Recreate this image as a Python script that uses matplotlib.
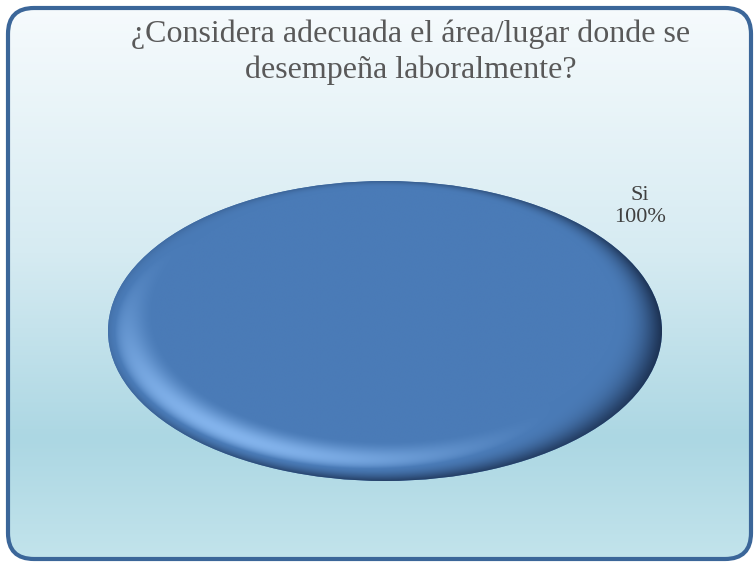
import numpy as np
import matplotlib
matplotlib.use("Agg")
import matplotlib.pyplot as plt
from matplotlib.colors import to_rgb
from matplotlib.patches import FancyBboxPatch

# data
categories = ["Si"]
values = [100]
title = "¿Considera adecuada el área/lugar donde se\ndesempeña laboralmente?"

W, H = 756, 563
BASE = np.array(to_rgb("#4a7bb7"))
HIGH = np.array(to_rgb("#8dbdf5"))
DARK = np.array(to_rgb("#1c3152"))

plt.rcParams["font.family"] = ["Liberation Serif", "DejaVu Serif"]

fig = plt.figure(figsize=(W / 100, H / 100), dpi=100)

# --- background panel: rounded box with a vertical gradient ---
bg = fig.add_axes([0, 0, 1, 1])
bg.set_xlim(0, W)
bg.set_ylim(H, 0)
bg.axis("off")

stops = [(0.0, "#f7fbfd"), (0.45, "#d6ebf2"), (0.78, "#acd7e3"), (1.0, "#c3e4ec")]
ys = np.linspace(0, 1, 256)
grad = np.zeros((256, 1, 3))
for ch in range(3):
    grad[:, 0, ch] = np.interp(ys, [s[0] for s in stops], [to_rgb(s[1])[ch] for s in stops])

box = FancyBboxPatch((8, 8), 743, 551, boxstyle="round,pad=0,rounding_size=26",
                     facecolor="none", edgecolor="#3b6699", linewidth=3, zorder=3)
bg.add_patch(box)
img = bg.imshow(grad, extent=(0, W, H, 0), aspect="auto", zorder=1)
img.set_clip_path(box)

# --- pie (drawn as an ellipse by the non-equal axes box) ---
ax = fig.add_axes([108 / W, (H - 481) / H, 554 / W, 300 / H])
total = sum(values)
labels = [f"{c}\n{v / total * 100:.0f}%" for c, v in zip(categories, values)]
wedges, texts = ax.pie(values, labels=labels, startangle=-138, labeldistance=1.24,
                       colors=["#4a7bb7"], textprops={"fontsize": 16, "color": "#404040"})
for t in texts:
    t.set_ha("center")
    t.set_va("center")
    t.set_linespacing(1.25)
ax.set_aspect("auto")

# bevel shading texture, clipped to the wedge
nx_, ny_ = 700, 380
u = np.linspace(-1, 1, nx_)[None, :]
v = np.linspace(1, -1, ny_)[:, None]
r = np.sqrt(u ** 2 + v ** 2) + 1e-9
r0 = 0.83 + 0.13 * v
tt = np.clip((r - r0) / (1 - r0), 0, 1)
ang_max = np.radians(np.where(v < 0, 100 - 60 * v, 100 - 60 * v))
ang = tt ** 1.7 * ang_max
n = np.stack([np.sin(ang) * u / r, np.sin(ang) * v / r, np.cos(ang)], axis=-1)
L = np.array([-0.5, -0.6, 0.62])
L = L / np.linalg.norm(L)
k = (n @ L) / L[2] - 1
pos = np.clip(k * 1.4, 0, 1)[..., None]
neg = (np.clip(-k * 0.5, 0, 1) ** 1.2)[..., None]
rgb = BASE + (HIGH - BASE) * pos + (DARK - BASE) * neg
shade = ax.imshow(np.clip(rgb, 0, 1), extent=(-1, 1, -1, 1), aspect="auto", zorder=2)
shade.set_clip_path(wedges[0])
ax.set_xlim(-1, 1)
ax.set_ylim(-1, 1)
ax.axis("off")

fig.text(411 / W, 1 - 52 / H, title, ha="center", va="center", fontsize=23,
         color="#595959", linespacing=1.3)

fig.savefig("out.png", dpi=100)
